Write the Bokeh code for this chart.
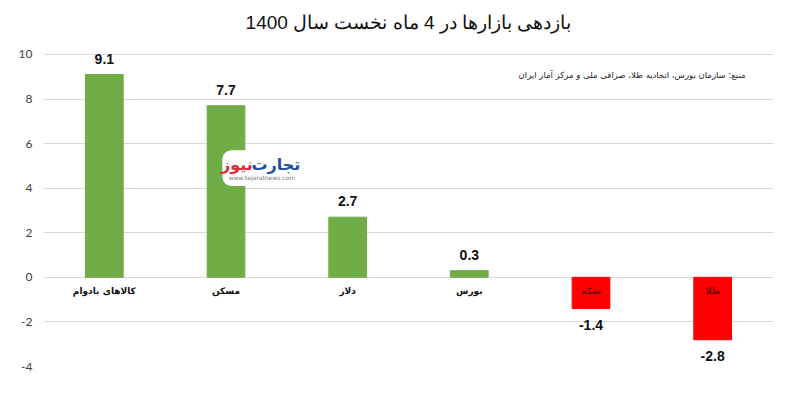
from bokeh.plotting import figure
from bokeh.models import ColumnDataSource, Label, BoxAnnotation, FixedTicker, Range1d, FactorRange
from bokeh.core.properties import value
from bokeh.embed import file_html
from bokeh.resources import INLINE

categories = ["کالاهای بادوام", "مسکن", "دلار", "بورس", "سکه", "طلا"]
returns = [9.1, 7.7, 2.7, 0.3, -1.4, -2.8]
y_ticks = [-4, -2, 0, 2, 4, 6, 8, 10]
title_text = "بازدهی بازارها در 4 ماه نخست سال 1400"
source_text = "منبع: سازمان بورس، اتحادیه طلا، صرافی ملی و مرکز آمار ایران"

GREEN = "#70AD47"
RED = "#FF0000"

colors = [GREEN if v >= 0 else RED for v in returns]
cat_colors = ["#111111" if v >= 0 else "#7a0000" for v in returns]
labels = [f"{v:.1f}" for v in returns]

src = ColumnDataSource(dict(cat=categories, val=returns, color=colors,
                            catcolor=cat_colors, lab=labels))
pos_src = ColumnDataSource(dict(cat=[c for c, v in zip(categories, returns) if v >= 0],
                                val=[v for v in returns if v >= 0],
                                lab=[l for l, v in zip(labels, returns) if v >= 0]))
neg_src = ColumnDataSource(dict(cat=[c for c, v in zip(categories, returns) if v < 0],
                                val=[v for v in returns if v < 0],
                                lab=[l for l, v in zip(labels, returns) if v < 0]))

# the frame reaches the top of the canvas; the space above 10 holds the title
p = figure(width=784, height=380, x_range=FactorRange(*categories, range_padding=0),
           y_range=Range1d(-4, 12.42), output_backend="svg", toolbar_location=None,
           min_border_left=43, min_border_right=11, min_border_bottom=14, min_border_top=0)

p.add_layout(Label(x=3.0, y=10, y_offset=32, text=title_text, text_align="center",
                   text_baseline="middle", text_font="Liberation Sans", text_font_size="19px",
                   text_color="#111111"))

p.vbar(x="cat", top="val", bottom=0, width=0.31, color="color", source=src)

# category labels just below the zero line
p.text(x="cat", y=0, text="cat", source=src, text_align="center", text_baseline="middle",
       y_offset=14, text_font=value("DejaVu Sans"), text_font_size="9px",
       text_font_style="bold", text_color="catcolor")

# value labels
p.text(x="cat", y="val", text="lab", source=pos_src, text_align="center",
       text_baseline="middle", y_offset=-16, text_font=value("Liberation Sans"),
       text_font_size="14px", text_font_style="bold", text_color="#111111")
p.text(x="cat", y="val", text="lab", source=neg_src, text_align="center",
       text_baseline="middle", y_offset=16, text_font=value("Liberation Sans"),
       text_font_size="14px", text_font_style="bold", text_color="#111111")

# source note
p.add_layout(Label(x=5.77, y=9.1, text=source_text, text_align="right", text_baseline="middle",
                   text_font="DejaVu Sans", text_font_size="8.5px", text_color="#222222"))

# logo
p.add_layout(BoxAnnotation(left=1.43, right=1.62, top=5.65, bottom=4.1, fill_color="#6ab04c",
                           fill_alpha=1, line_color=None, border_radius=9, level="overlay"))
p.add_layout(BoxAnnotation(left=1.47, right=2.12, top=5.7, bottom=4.1, fill_color="white",
                           fill_alpha=1, line_color=None, border_radius=9, level="overlay"))
p.add_layout(Label(x=2.11, y=5.05, text="تجارت", text_align="right", text_baseline="middle",
                   text_font="DejaVu Sans", text_font_size="16px", text_font_style="bold",
                   text_color="#1f4e9c", level="overlay"))
p.add_layout(Label(x=1.72, y=5.05, text="نیوز", text_align="right", text_baseline="middle",
                   text_font="DejaVu Sans", text_font_size="16px", text_font_style="bold",
                   text_color="#e02a36", level="overlay"))
p.add_layout(Label(x=1.795, y=4.5, text="www.tejaratnews.com", text_align="center",
                   text_baseline="middle", text_font="DejaVu Sans", text_font_size="6px",
                   text_color="#777777", level="overlay"))

p.xaxis.visible = False
p.yaxis.ticker = FixedTicker(ticks=y_ticks)
p.yaxis.major_label_overrides = {t: str(t) for t in y_ticks}
p.yaxis.axis_line_color = None
p.yaxis.major_tick_line_color = None
p.yaxis.minor_tick_line_color = None
p.yaxis.major_label_text_font = "Lato"
p.yaxis.major_label_text_font_size = "12px"
p.yaxis.major_label_text_color = "#404040"
p.yaxis.major_label_standoff = 5
p.xgrid.grid_line_color = None
p.ygrid.ticker = FixedTicker(ticks=y_ticks)
p.ygrid.grid_line_color = "#d9d9d9"
p.outline_line_color = None

open("out.html", "w").write(file_html(p, INLINE))
